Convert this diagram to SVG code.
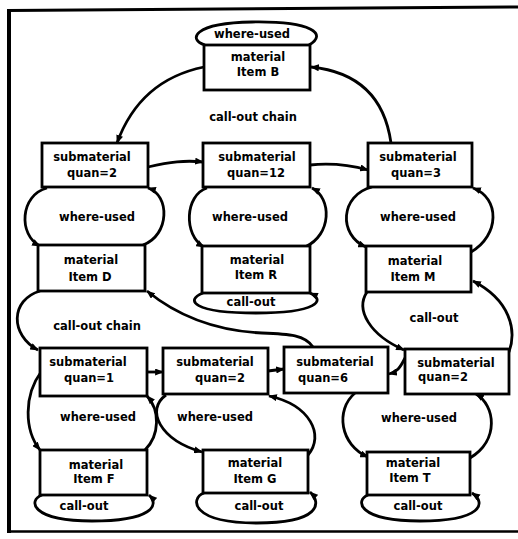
<svg xmlns="http://www.w3.org/2000/svg" width="518" height="539" viewBox="0 0 518 539">
<style>
.bx{fill:#fff;stroke:#000;stroke-width:2.8}
.ln{fill:none;stroke:#000;stroke-width:2.8}
.ar{marker-end:url(#ah)}
text{font-family:"DejaVu Sans","Liberation Sans",sans-serif;font-weight:bold;font-size:11.5px;fill:#000;text-anchor:middle}
.fr{stroke:#000;fill:none}
</style>
<defs>
<marker id="ah" viewBox="0 0 10 8" refX="9" refY="4" markerWidth="9" markerHeight="7" markerUnits="userSpaceOnUse" orient="auto">
<path d="M0,0 L10,4 L0,8 z" fill="#000"/>
</marker>
</defs>
<rect width="518" height="539" fill="#fff"/>
<g id="frame">
<line class="fr" x1="9" y1="9" x2="9" y2="533" stroke-width="4"/>
<line class="fr" x1="8" y1="10.5" x2="518" y2="7" stroke-width="3"/>
<line class="fr" x1="8" y1="531.5" x2="518" y2="531.5" stroke-width="2.5"/>
</g>
<g id="connectors">
<path class="ln" d="M205,45 C188,40 192,23 252,22 C312,21 328,34 309,45"/>
<path class="ln ar" d="M204,67 Q140,80 117,143"/>
<path class="ln ar" d="M391,143 C385,100 360,72 311,67"/>
<path class="ln ar" d="M148,167 C170,162 185,160 203,162"/>
<path class="ln ar" d="M310,165 C330,163 350,165 368,170"/>
<path class="ln ar" d="M47,188 C20,195 18,235 40,246"/>
<path class="ln ar" d="M143,245 C170,235 170,195 148,188"/>
<path class="ln ar" d="M207,188 C185,195 183,235 204,247"/>
<path class="ln ar" d="M305,247 C332,235 332,198 312,188"/>
<path class="ln ar" d="M372,187 C340,195 338,235 366,247"/>
<path class="ln ar" d="M471,252 C500,235 500,198 473,188"/>
<path class="ln ar" d="M203,293 C185,300 192,313 256,313 C318,313 326,300 310,293"/>
<path class="ln ar" d="M367,292 C355,310 370,335 404,350"/>
<path class="ln ar" d="M509,352 C517,330 510,300 473,281"/>
<path class="ln ar" d="M405,358 C400,368 397,372 389,374"/>
<path class="ln ar" d="M313,347 C305,335 290,334 262,333 C220,331 180,318 147,291"/>
<path class="ln ar" d="M40,291 C10,300 10,335 38,350"/>
<path class="ln ar" d="M147,372 L163,372"/>
<path class="ln ar" d="M268,371 L284,369"/>
<path class="ln ar" d="M41,372 C24,395 24,430 40,450"/>
<path class="ln ar" d="M145,450 C160,435 160,410 147,396"/>
<path class="ln ar" d="M166,395 C145,410 160,440 202,452"/>
<path class="ln ar" d="M308,455 C325,435 310,405 269,396"/>
<path class="ln ar" d="M355,393 C335,410 340,445 368,457"/>
<path class="ln ar" d="M470,458 C500,440 495,405 476,394"/>
<path class="ln ar" d="M42,495 C28,500 30,521 92,521 C152,521 160,505 149,495"/>
<path class="ln ar" d="M204,493 C190,498 190,523 257,523 C320,523 322,503 310,492"/>
<path class="ln ar" d="M368,495 C355,500 357,521 420,521 C482,521 487,503 472,493"/>
</g>
<g id="labels">
<text x="252" y="38">where-used</text>
<text x="253" y="121">call-out chain</text>
<text x="97" y="221">where-used</text>
<text x="250" y="221">where-used</text>
<text x="418" y="221">where-used</text>
<text x="251" y="306">call-out</text>
<text x="97" y="330">call-out chain</text>
<text x="434" y="322">call-out</text>
<text x="98" y="421">where-used</text>
<text x="215" y="421">where-used</text>
<text x="419" y="422">where-used</text>
<text x="84" y="510">call-out</text>
<text x="259" y="510">call-out</text>
<text x="418" y="510">call-out</text>
</g>
<g id="itemB"><rect class="bx" x="204" y="45" width="106" height="45"/><text x="258" y="61">material</text><text x="258" y="76">Item B</text></g>
<g id="sub1"><rect class="bx" x="42" y="143" width="106" height="44"/><text x="92" y="161">submaterial</text><text x="92" y="177">quan=2</text></g>
<g id="sub2"><rect class="bx" x="203" y="143" width="107" height="44"/><text x="257" y="161">submaterial</text><text x="256" y="177">quan=12</text></g>
<g id="sub3"><rect class="bx" x="368" y="143" width="104" height="44"/><text x="418" y="161">submaterial</text><text x="416" y="177">quan=3</text></g>
<g id="itemD"><rect class="bx" x="38" y="245" width="107" height="46"/><text x="91" y="264">material</text><text x="90" y="281">Item D</text></g>
<g id="itemR"><rect class="bx" x="202" y="246" width="108" height="47"/><text x="257" y="264">material</text><text x="256" y="279">Item R</text></g>
<g id="itemM"><rect class="bx" x="366" y="246" width="105" height="46"/><text x="415" y="265">material</text><text x="413" y="281">Item M</text></g>
<g id="sub4"><rect class="bx" x="40" y="348" width="107" height="48"/><text x="88" y="366">submaterial</text><text x="89" y="382">quan=1</text></g>
<g id="sub5"><rect class="bx" x="163" y="348" width="105" height="46"/><text x="215" y="366">submaterial</text><text x="220" y="382">quan=2</text></g>
<g id="sub6"><rect class="bx" x="284" y="347" width="104" height="46"/><text x="335" y="366">submaterial</text><text x="323" y="382">quan=6</text></g>
<g id="sub7"><rect class="bx" x="405" y="349" width="104" height="45"/><text x="456" y="367">submaterial</text><text x="443" y="381">quan=2</text></g>
<g id="itemF"><rect class="bx" x="40" y="450" width="107" height="45"/><text x="96" y="469">material</text><text x="94" y="483">Item F</text></g>
<g id="itemG"><rect class="bx" x="203" y="450" width="105" height="43"/><text x="255" y="467">material</text><text x="255" y="483">Item G</text></g>
<g id="itemT"><rect class="bx" x="367" y="452" width="103" height="43"/><text x="413" y="467">material</text><text x="410" y="482">Item T</text></g>
</svg>
